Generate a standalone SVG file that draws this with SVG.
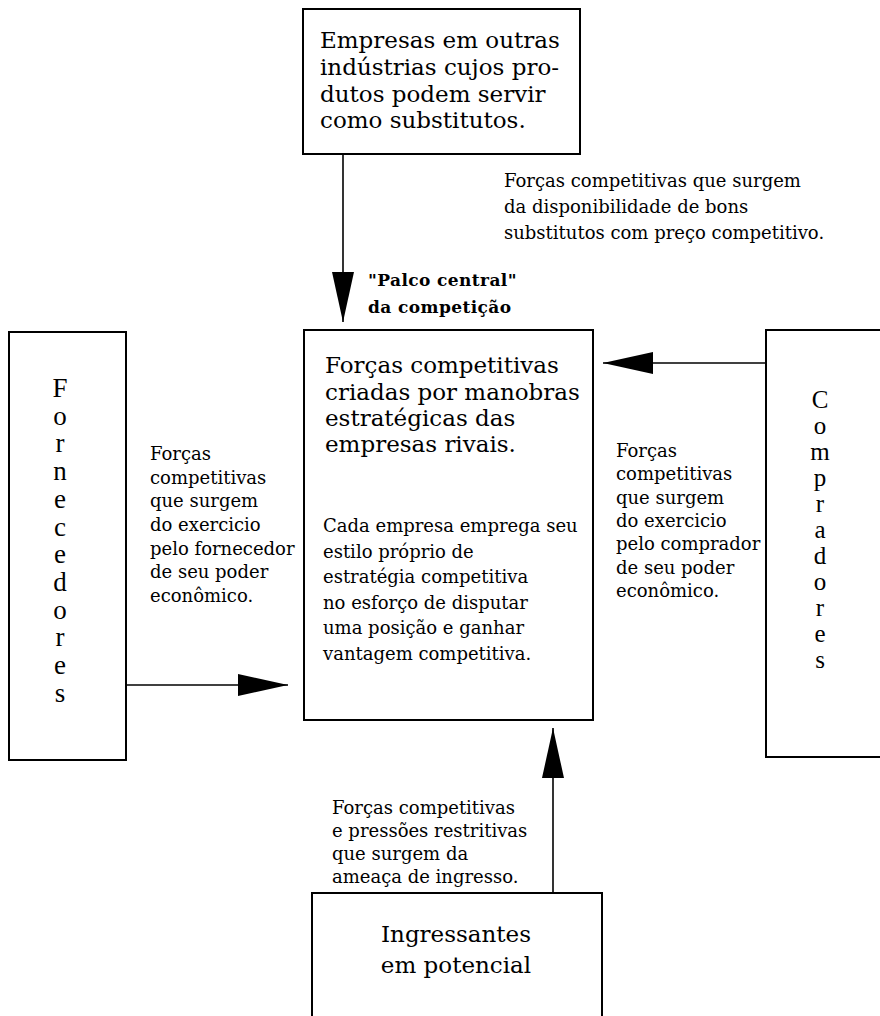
<svg xmlns="http://www.w3.org/2000/svg" width="880" height="1016" viewBox="0 0 880 1016">
<style>
.box{fill:#fff;stroke:#000;stroke-width:2}
.big{font-family:"DejaVu Serif",serif;font-size:23px;fill:#000}
.sm{font-family:"DejaVu Serif",serif;font-size:18px;fill:#000}
.bd{font-family:"DejaVu Serif",serif;font-size:17px;font-weight:bold;letter-spacing:0.4px;fill:#000}
.vt{font-family:"Liberation Serif",serif;font-size:27px;fill:#000;text-anchor:middle}
.vt2{font-size:25px}
.mid{text-anchor:middle}
.conn{stroke:#000;stroke-width:1.6;fill:none;marker-end:url(#ah)}
</style>
<defs>
<marker id="ah" markerUnits="userSpaceOnUse" markerWidth="52" markerHeight="22" refX="50" refY="11" orient="auto" overflow="visible">
<path d="M0,0 L50,11 L0,22 Z" fill="#000"/>
</marker>
</defs>
<rect width="880" height="1016" fill="#fff"/>

<g id="connectors">
<path class="conn" d="M343,155 V322"/>
<path class="conn" d="M125,685 H288"/>
<path class="conn" d="M767,363 H603"/>
<path class="conn" d="M553,893 V728"/>
</g>

<g id="substitutos">
<rect class="box" x="303" y="9" width="277" height="145"/>
<text class="big" x="320" y="48">Empresas em outras</text>
<text class="big" x="320" y="75">indústrias cujos pro-</text>
<text class="big" x="320" y="102">dutos podem servir</text>
<text class="big" x="320" y="128">como substitutos.</text>
</g>

<g id="label-substitutos">
<text class="sm" x="504" y="187">Forças competitivas que surgem</text>
<text class="sm" x="504" y="213">da disponibilidade de bons</text>
<text class="sm" x="504" y="239">substitutos com preço competitivo.</text>
</g>

<g id="label-palco">
<text class="bd" x="368" y="286">"Palco central"</text>
<text class="bd" x="368" y="313">da competição</text>
</g>

<g id="rivais">
<rect class="box" x="304" y="330" width="289" height="390"/>
<text class="big" x="325" y="373">Forças competitivas</text>
<text class="big" x="325" y="400">criadas por manobras</text>
<text class="big" x="325" y="426">estratégicas das</text>
<text class="big" x="325" y="452">empresas rivais.</text>
<text class="sm" x="323" y="532">Cada empresa emprega seu</text>
<text class="sm" x="323" y="557.6">estilo próprio de</text>
<text class="sm" x="323" y="583.2">estratégia competitiva</text>
<text class="sm" x="323" y="608.8">no esforço de disputar</text>
<text class="sm" x="323" y="634.4">uma posição e ganhar</text>
<text class="sm" x="323" y="660">vantagem competitiva.</text>
</g>

<g id="fornecedores">
<rect class="box" x="9" y="332" width="117" height="428"/>
<text class="vt" x="60" y="397"><tspan x="60">F</tspan><tspan x="60" dy="27.7">o</tspan><tspan x="60" dy="27.7">r</tspan><tspan x="60" dy="27.7">n</tspan><tspan x="60" dy="27.7">e</tspan><tspan x="60" dy="27.7">c</tspan><tspan x="60" dy="27.7">e</tspan><tspan x="60" dy="27.7">d</tspan><tspan x="60" dy="27.7">o</tspan><tspan x="60" dy="27.7">r</tspan><tspan x="60" dy="27.7">e</tspan><tspan x="60" dy="27.7">s</tspan></text>
</g>

<g id="label-fornecedores">
<text class="sm" x="150" y="460">Forças</text>
<text class="sm" x="150" y="483.7">competitivas</text>
<text class="sm" x="150" y="507.3">que surgem</text>
<text class="sm" x="150" y="531">do exercicio</text>
<text class="sm" x="150" y="554.7">pelo fornecedor</text>
<text class="sm" x="150" y="578.3">de seu poder</text>
<text class="sm" x="150" y="602">econômico.</text>
</g>

<g id="compradores">
<rect class="box" x="766" y="330" width="130" height="427"/>
<text class="vt vt2" x="820" y="408"><tspan x="820">C</tspan><tspan x="820" dy="26">o</tspan><tspan x="820" dy="26">m</tspan><tspan x="820" dy="26">p</tspan><tspan x="820" dy="26">r</tspan><tspan x="820" dy="26">a</tspan><tspan x="820" dy="26">d</tspan><tspan x="820" dy="26">o</tspan><tspan x="820" dy="26">r</tspan><tspan x="820" dy="26">e</tspan><tspan x="820" dy="26">s</tspan></text>
</g>

<g id="label-compradores">
<text class="sm" x="616" y="457">Forças</text>
<text class="sm" x="616" y="480.3">competitivas</text>
<text class="sm" x="616" y="503.7">que surgem</text>
<text class="sm" x="616" y="527">do exercicio</text>
<text class="sm" x="616" y="550.3">pelo comprador</text>
<text class="sm" x="616" y="573.7">de seu poder</text>
<text class="sm" x="616" y="597">econômico.</text>
</g>

<g id="label-ingressantes">
<text class="sm" x="332" y="814">Forças competitivas</text>
<text class="sm" x="332" y="837">e pressões restritivas</text>
<text class="sm" x="332" y="860">que surgem da</text>
<text class="sm" x="332" y="883">ameaça de ingresso.</text>
</g>

<g id="ingressantes">
<rect class="box" x="312" y="893" width="290" height="140"/>
<text class="big mid" x="456" y="942">Ingressantes</text>
<text class="big mid" x="456" y="973">em potencial</text>
</g>
</svg>
